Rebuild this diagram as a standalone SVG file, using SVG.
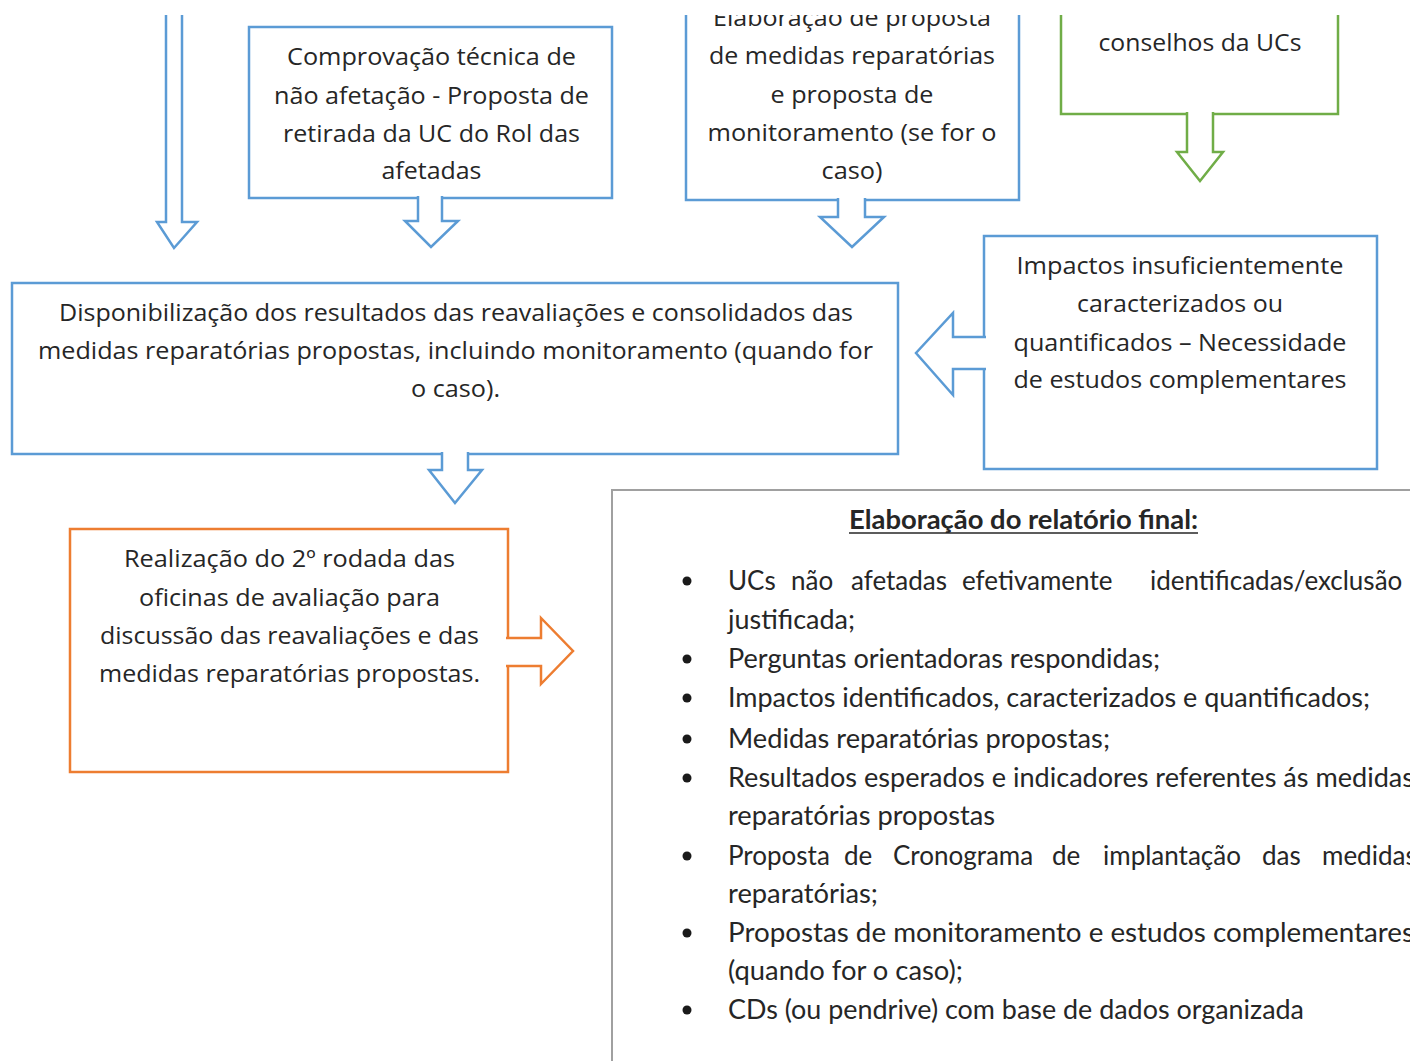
<svg xmlns="http://www.w3.org/2000/svg" width="1410" height="1061" viewBox="0 0 1410 1061">
<style>
.bx{fill:#fff;stroke-width:2.5}
.blue{stroke:#5b9bd5}
.green{stroke:#70ad47}
.orange{stroke:#ed7d31}
.arr{fill:#fff;stroke-width:2.5;stroke-linejoin:miter}
.t{font-family:"Open Sans","DejaVu Sans",sans-serif;font-size:23px;fill:#262626;text-anchor:middle}
.l{font-family:Lato,"Liberation Sans",sans-serif;font-size:26px;fill:#262626}
.h{font-family:Lato,"Liberation Sans",sans-serif;font-size:26px;font-weight:bold;fill:#262626;text-anchor:middle}
</style>
<defs>
<clipPath id="clip"><rect x="0" y="15" width="1410" height="1046"/></clipPath>
</defs>
<rect width="1410" height="1061" fill="#fff"/>
<g clip-path="url(#clip)">

<g id="node-comprovacao">
<rect class="bx blue" x="249" y="27" width="363" height="171"/>
<text class="t" x="431.5" y="65" textLength="289" lengthAdjust="spacingAndGlyphs">Comprovação técnica de</text>
<text class="t" x="431.5" y="104" textLength="315" lengthAdjust="spacingAndGlyphs">não afetação - Proposta de</text>
<text class="t" x="431.5" y="142" textLength="297" lengthAdjust="spacingAndGlyphs">retirada da UC do Rol das</text>
<text class="t" x="431.5" y="179" textLength="100" lengthAdjust="spacingAndGlyphs">afetadas</text>
</g>

<g id="node-elaboracao">
<rect class="bx blue" x="686" y="-20" width="333" height="220"/>
<text class="t" x="852" y="26" textLength="278" lengthAdjust="spacingAndGlyphs">Elaboração de proposta</text>
<text class="t" x="852" y="64" textLength="286" lengthAdjust="spacingAndGlyphs">de medidas reparatórias</text>
<text class="t" x="852" y="103" textLength="163" lengthAdjust="spacingAndGlyphs">e proposta de</text>
<text class="t" x="852" y="141" textLength="289" lengthAdjust="spacingAndGlyphs">monitoramento (se for o</text>
<text class="t" x="852" y="179" textLength="61" lengthAdjust="spacingAndGlyphs">caso)</text>
</g>

<g id="node-conselhos">
<rect class="bx green" x="1061" y="-20" width="277" height="134"/>
<text class="t" x="1200" y="51" textLength="203" lengthAdjust="spacingAndGlyphs">conselhos da UCs</text>
</g>

<g id="node-impactos">
<rect class="bx blue" x="984" y="236" width="393" height="233"/>
<text class="t" x="1180" y="274" textLength="327" lengthAdjust="spacingAndGlyphs">Impactos insuficientemente</text>
<text class="t" x="1180" y="312" textLength="206" lengthAdjust="spacingAndGlyphs">caracterizados ou</text>
<text class="t" x="1180" y="351" textLength="333" lengthAdjust="spacingAndGlyphs">quantificados – Necessidade</text>
<text class="t" x="1180" y="388" textLength="333" lengthAdjust="spacingAndGlyphs">de estudos complementares</text>
</g>

<g id="node-disponibilizacao">
<rect class="bx blue" x="12" y="283" width="886" height="171"/>
<text class="t" x="456" y="321" textLength="794" lengthAdjust="spacingAndGlyphs">Disponibilização dos resultados das reavaliações e consolidados das</text>
<text class="t" x="455.5" y="359" textLength="835" lengthAdjust="spacingAndGlyphs">medidas reparatórias propostas, incluindo monitoramento (quando for</text>
<text class="t" x="455.5" y="397" textLength="89" lengthAdjust="spacingAndGlyphs">o caso).</text>
</g>

<g id="node-oficinas">
<rect class="bx orange" x="70" y="529" width="438" height="243"/>
<text class="t" x="289.5" y="567" textLength="331" lengthAdjust="spacingAndGlyphs">Realização do 2º rodada das</text>
<text class="t" x="289.5" y="606" textLength="301" lengthAdjust="spacingAndGlyphs">oficinas de avaliação para</text>
<text class="t" x="289.5" y="644" textLength="379" lengthAdjust="spacingAndGlyphs">discussão das reavaliações e das</text>
<text class="t" x="289.5" y="682" textLength="381" lengthAdjust="spacingAndGlyphs">medidas reparatórias propostas.</text>
</g>

<g id="node-relatorio">
<rect x="612" y="490" width="900" height="700" fill="#fff" stroke="#a0a0a0" stroke-width="2"/>
<text class="h" x="1023.5" y="529" textLength="349" lengthAdjust="spacingAndGlyphs">Elaboração do relatório final:</text>
<line x1="849" y1="533" x2="1198" y2="533" stroke="#262626" stroke-width="1.6"/>
<g fill="#1a1a1a">
<circle cx="687" cy="581" r="4.5"/>
<circle cx="687" cy="659" r="4.5"/>
<circle cx="687" cy="698" r="4.5"/>
<circle cx="687" cy="739" r="4.5"/>
<circle cx="687" cy="778" r="4.5"/>
<circle cx="687" cy="856" r="4.5"/>
<circle cx="687" cy="933" r="4.5"/>
<circle cx="687" cy="1010" r="4.5"/>
</g>
<text class="l" y="590"><tspan x="728">UCs</tspan><tspan x="791">não</tspan><tspan x="851">afetadas</tspan><tspan x="962">efetivamente</tspan><tspan x="1150">identificadas/exclusão</tspan></text>
<text class="l" x="728" y="629" textLength="127" lengthAdjust="spacingAndGlyphs">justificada;</text>
<text class="l" x="728" y="668" textLength="432" lengthAdjust="spacingAndGlyphs">Perguntas orientadoras respondidas;</text>
<text class="l" x="728" y="707" textLength="642" lengthAdjust="spacingAndGlyphs">Impactos identificados, caracterizados e quantificados;</text>
<text class="l" x="728" y="748" textLength="382" lengthAdjust="spacingAndGlyphs">Medidas reparatórias propostas;</text>
<text class="l" x="728" y="787" textLength="686" lengthAdjust="spacingAndGlyphs">Resultados esperados e indicadores referentes ás medidas</text>
<text class="l" x="728" y="825" textLength="267" lengthAdjust="spacingAndGlyphs">reparatórias propostas</text>
<text class="l" y="865"><tspan x="728">Proposta</tspan><tspan x="844">de</tspan><tspan x="893">Cronograma</tspan><tspan x="1052">de</tspan><tspan x="1103">implantação</tspan><tspan x="1262">das</tspan><tspan x="1322">medidas</tspan></text>
<text class="l" x="728" y="903" textLength="150" lengthAdjust="spacingAndGlyphs">reparatórias;</text>
<text class="l" x="728" y="942" textLength="686" lengthAdjust="spacingAndGlyphs">Propostas de monitoramento e estudos complementares</text>
<text class="l" x="728" y="980" textLength="235" lengthAdjust="spacingAndGlyphs">(quando for o caso);</text>
<text class="l" x="728" y="1019" textLength="576" lengthAdjust="spacingAndGlyphs">CDs (ou pendrive) com base de dados organizada</text>
</g>

<g id="connectors">
<path class="arr blue" d="M166,-10 L166,222 L157,222 L174,248 L197,222 L182,222 L182,-10"/>
<path class="arr blue" d="M418,196 L418,221 L405,221 L431,247 L458,221 L442,221 L442,196"/>
<path class="arr blue" d="M838,198 L838,217 L820,217 L852,247 L884,217 L865,217 L865,198"/>
<path class="arr green" d="M1187,112 L1187,152 L1177,152 L1200,181 L1223,152 L1213,152 L1213,112"/>
<path class="arr blue" d="M986,337 L953,337 L953,313 L916,353 L953,395 L953,369 L986,369"/>
<path class="arr blue" d="M442,452 L442,470 L429,470 L455,503 L482,470 L468,470 L468,452"/>
<path class="arr orange" d="M506,638 L541,638 L541,618 L573,651 L541,684 L541,666 L506,666"/>
</g>
</g>
</svg>
